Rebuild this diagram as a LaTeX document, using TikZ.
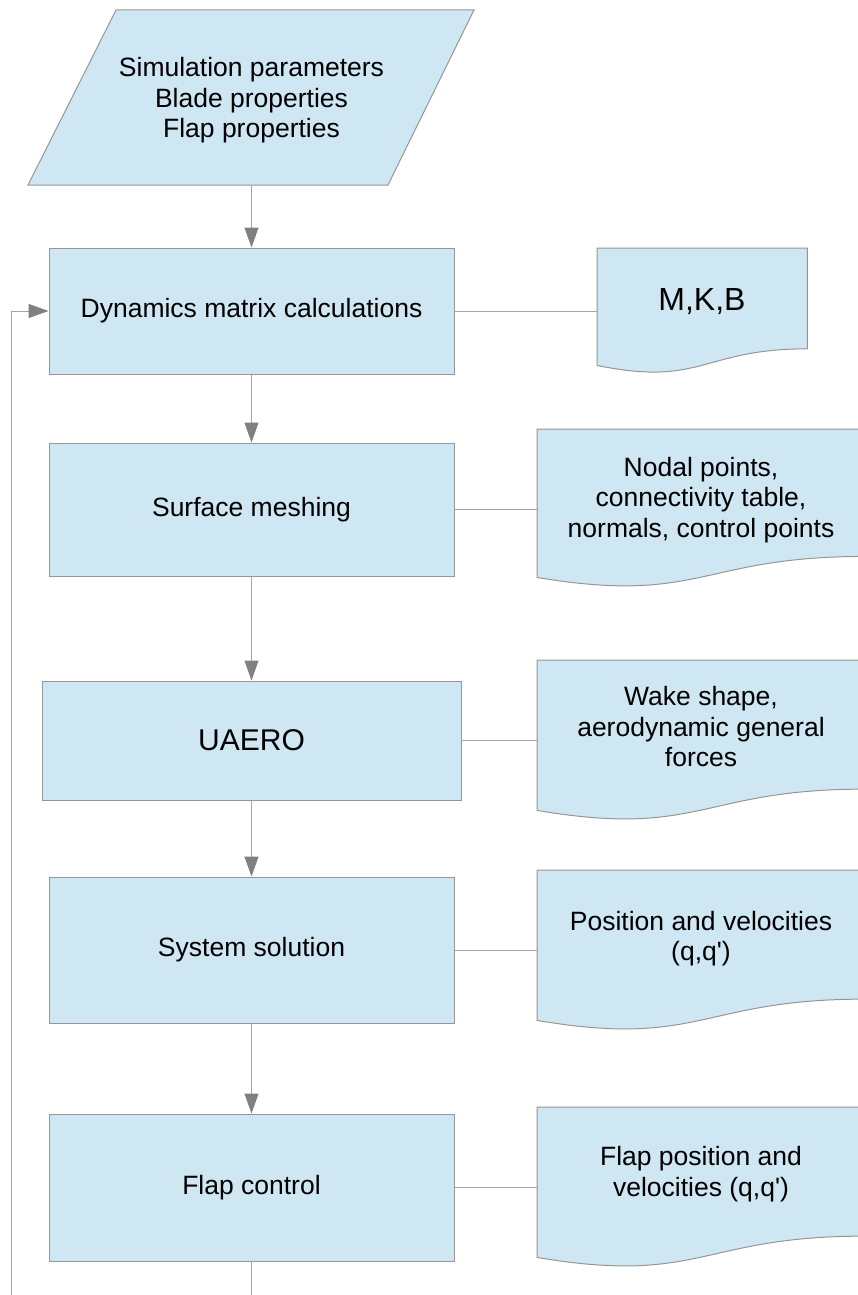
\documentclass[tikz,border=0pt]{standalone}
\usepackage{fontspec}
\setmainfont{Liberation Sans}
\usetikzlibrary{arrows.meta,calc}
\pgfdeclarelayer{background}
\pgfsetlayers{background,main}
\definecolor{boxfill}{RGB}{207,230,243}
\definecolor{boxline}{RGB}{150,150,150}
\definecolor{conline}{RGB}{165,165,165}
\definecolor{tipcol}{RGB}{128,128,128}
\newcommand\docpath[1]{\draw[docshape] (#1.north west) -- (#1.north east) -- ($(#1.north east)!0.802!(#1.south east)$) .. controls ($(#1.north)!0.802!(#1.south)$) and ($(#1.north)!1.107!(#1.south)$) .. ($(#1.north west)!0.934!(#1.south west)$) -- cycle;}
\begin{document}
\begin{tikzpicture}[x=1pt,y=-1pt,
 every node/.style={font=\fontsize{26.5}{30.5}\selectfont, inner sep=0pt},
 procbox/.style={draw=boxline, fill=boxfill, line width=1pt, minimum width=405pt},
 docshape/.style={draw=boxline, fill=boxfill, line width=1pt},
 docarea/.style={draw=none, anchor=north west},
 txt/.style={align=center},
 con/.style={draw=conline, line width=1pt},
 arr/.style={con, -{Triangle[length=20pt,width=14pt,color=tipcol]}}]
\useasboundingbox (0,0) rectangle (858,1295);
\clip (0,0) rectangle (858,1295);

% input parallelogram
\node[txt, minimum height=175pt, minimum width=272pt] (p) at (251.5,97.5) {};
\node[txt] (pt) at (251.5,100.5) {Simulation parameters\\Blade properties\\Flap properties};
\begin{pgfonlayer}{background}
\draw[docshape] (116,10) -- (474,10) -- (388,185) -- (28,185) -- cycle;
\end{pgfonlayer}

% process boxes
\node[procbox, minimum height=126pt] (b1) at (251.5,311) {Dynamics matrix calculations};
\node[procbox, minimum height=133pt] (b2) at (251.5,509.5) {Surface meshing};
\node[procbox, minimum width=419pt, minimum height=119pt, font=\fontsize{30}{34}\selectfont] (b3) at (251.5,740.5) {UAERO};
\node[procbox, minimum height=146pt] (b4) at (251.5,950) {System solution};
\node[procbox, minimum height=147pt] (b5) at (251.5,1187.5) {Flap control};

% document shapes
\node[docarea, minimum width=210pt, minimum height=125.3pt] (d1) at (597,248) {};
\node[docarea, minimum width=327pt, minimum height=158.5pt] (d2) at (537,429) {};
\node[docarea, minimum width=327pt, minimum height=160.6pt] (d3) at (537,660) {};
\node[docarea, minimum width=327pt, minimum height=160.6pt] (d4) at (537,870) {};
\node[docarea, minimum width=327pt, minimum height=160.6pt] (d5) at (537,1107) {};
\begin{pgfonlayer}{background}
\docpath{d1}\docpath{d2}\docpath{d3}\docpath{d4}\docpath{d5}
\end{pgfonlayer}

\node[txt, font=\fontsize{32}{36}\selectfont] (t1) at (702,302) {M,K,B};
\node[txt] (t2) at (701,500) {Nodal points,\\connectivity table,\\normals, control points};
\node[txt] (t3) at (701,727) {Wake shape,\\aerodynamic general\\forces};
\node[txt] (t4) at (701,938.5) {Position and velocities\\(q,q\textquotesingle)};
\node[txt] (t5) at (701,1174) {Flap position and\\velocities (q,q\textquotesingle)};

% connectors
\draw[arr] (p.south) -- (b1.north);
\draw[arr] (b1.south) -- (b2.north);
\draw[arr] (b2.south) -- (b3.north);
\draw[arr] (b3.south) -- (b4.north);
\draw[arr] (b4.south) -- (b5.north);
\draw[con] (b1.east) -- (b1.east -| d1.west);
\draw[con] (b2.east) -- (b2.east -| d2.west);
\draw[con] (b3.east) -- (b3.east -| d3.west);
\draw[con] (b4.east) -- (b4.east -| d4.west);
\draw[con] (b5.east) -- (b5.east -| d5.west);
\coordinate (lp) at (11,1320);
\draw[arr] (b5.south) |- (lp) |- (b1.west);
\end{tikzpicture}
\end{document}
